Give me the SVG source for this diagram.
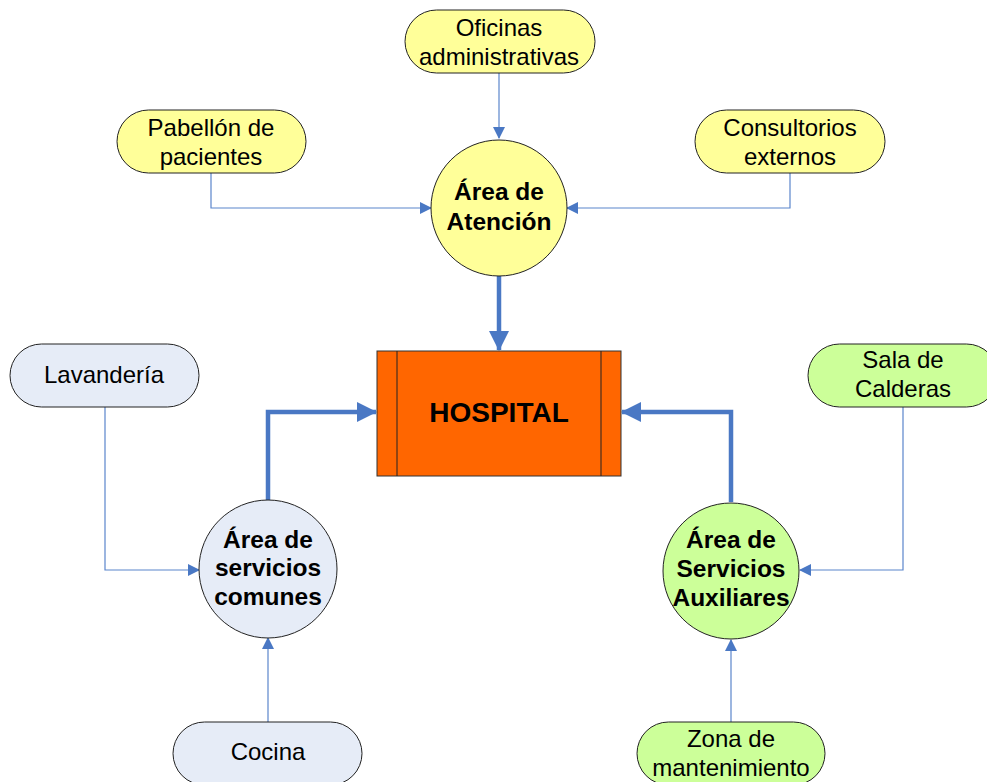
<svg xmlns="http://www.w3.org/2000/svg" width="987" height="782" viewBox="0 0 987 782">
  <style>
    .pill { stroke: #222; stroke-width: 1; }
    .hub { stroke: #222; stroke-width: 1; }
    .yellow { fill: #FFFF99; }
    .blue { fill: #E6ECF7; }
    .green { fill: #CCFF99; }
    .lbl { font-family: "Liberation Sans", Arial, sans-serif; font-size: 24px; fill: #000; text-anchor: middle; }
    .bold { font-weight: bold; font-size: 24.5px; }
    .thin { fill: none; stroke: #5B85CC; stroke-width: 1.2; }
    .thick { fill: none; stroke: #4A78C4; stroke-width: 4.5; }
  </style>
  <defs>
    <marker id="small" markerWidth="12" markerHeight="12" refX="11" refY="6" orient="auto" markerUnits="userSpaceOnUse">
      <path d="M0,0 L12,6 L0,12 Z" fill="#4A78C4"/>
    </marker>
    <marker id="big" markerWidth="20" markerHeight="20" refX="19" refY="10" orient="auto" markerUnits="userSpaceOnUse">
      <path d="M0,0 L20,10 L0,20 Z" fill="#4A78C4"/>
    </marker>
  </defs>
  <rect width="987" height="782" fill="#fff"/>

  <!-- connectors -->
  <g id="connectors">
    <path class="thin" d="M499,73 L499,138" marker-end="url(#small)"/>
    <path class="thin" d="M211,173 L211,208 L431,208" marker-end="url(#small)"/>
    <path class="thin" d="M790,173 L790,208 L567,208" marker-end="url(#small)"/>
    <path class="thin" d="M105,407 L105,570 L199,570" marker-end="url(#small)"/>
    <path class="thin" d="M268,722 L268,638" marker-end="url(#small)"/>
    <path class="thin" d="M903,407 L903,570 L800,570" marker-end="url(#small)"/>
    <path class="thin" d="M731,722 L731,640" marker-end="url(#small)"/>
    <path class="thick" d="M499,276 L499,350" marker-end="url(#big)"/>
    <path class="thick" d="M268,500 L268,412 L376,412" marker-end="url(#big)"/>
    <path class="thick" d="M731,502 L731,412 L622,412" marker-end="url(#big)"/>
  </g>

  <g id="hospital">
    <rect x="377" y="351" width="244" height="125" fill="#FF6600" stroke="#333" stroke-width="1"/>
    <line x1="397" y1="351" x2="397" y2="476" stroke="#222" stroke-width="1"/>
    <line x1="601" y1="351" x2="601" y2="476" stroke="#222" stroke-width="1"/>
    <text class="lbl bold" x="499" y="422" style="font-size:28px">HOSPITAL</text>
  </g>

  <g id="area-atencion">
    <circle class="hub yellow" cx="499" cy="208" r="68"/>
    <text class="lbl bold" x="499" y="200">Área de</text>
    <text class="lbl bold" x="499" y="230">Atención</text>
  </g>

  <g id="oficinas">
    <rect class="pill yellow" x="405" y="10" width="190" height="63" rx="31.5"/>
    <text class="lbl" x="499" y="36">Oficinas</text>
    <text class="lbl" x="499" y="65">administrativas</text>
  </g>

  <g id="pabellon">
    <rect class="pill yellow" x="117" y="110" width="189" height="63" rx="31.5"/>
    <text class="lbl" x="211" y="136">Pabellón de</text>
    <text class="lbl" x="211" y="165">pacientes</text>
  </g>

  <g id="consultorios">
    <rect class="pill yellow" x="695" y="110" width="190" height="63" rx="31.5"/>
    <text class="lbl" x="790" y="136">Consultorios</text>
    <text class="lbl" x="790" y="165">externos</text>
  </g>

  <g id="area-servicios-comunes">
    <circle class="hub blue" cx="268" cy="569" r="69"/>
    <text class="lbl bold" x="268" y="548">Área de</text>
    <text class="lbl bold" x="268" y="576">servicios</text>
    <text class="lbl bold" x="268" y="605">comunes</text>
  </g>

  <g id="lavanderia">
    <rect class="pill blue" x="10" y="344" width="189" height="63" rx="31.5"/>
    <text class="lbl" x="104" y="383">Lavandería</text>
  </g>

  <g id="cocina">
    <rect class="pill blue" x="173" y="722" width="189" height="63" rx="31.5"/>
    <text class="lbl" x="268" y="760">Cocina</text>
  </g>

  <g id="area-servicios-auxiliares">
    <circle class="hub green" cx="731" cy="571" r="68"/>
    <text class="lbl bold" x="731" y="548">Área de</text>
    <text class="lbl bold" x="731" y="577">Servicios</text>
    <text class="lbl bold" x="731" y="606">Auxiliares</text>
  </g>

  <g id="sala-calderas">
    <rect class="pill green" x="808" y="344" width="190" height="63" rx="31.5"/>
    <text class="lbl" x="903" y="368">Sala de</text>
    <text class="lbl" x="903" y="397">Calderas</text>
  </g>

  <g id="zona-mantenimiento">
    <rect class="pill green" x="637" y="722" width="188" height="63" rx="31.5"/>
    <text class="lbl" x="731" y="747">Zona de</text>
    <text class="lbl" x="731" y="776">mantenimiento</text>
  </g>
</svg>
